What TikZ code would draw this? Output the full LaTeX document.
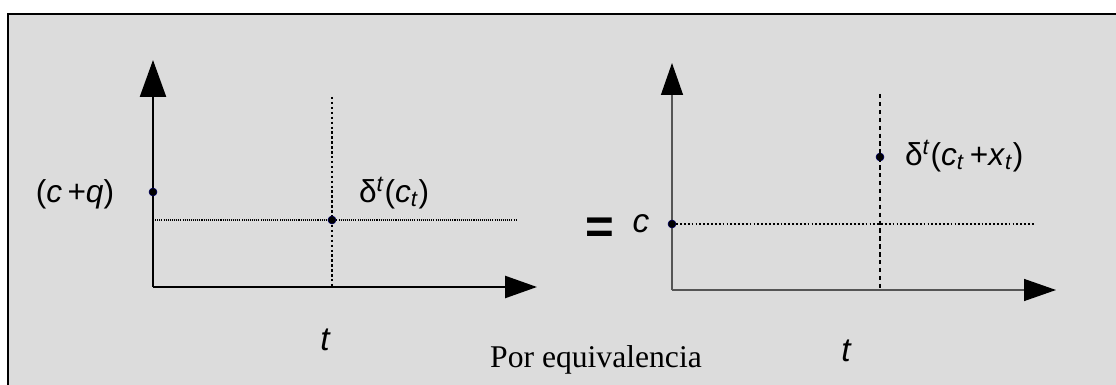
\documentclass[tikz,border=0pt]{standalone}
\usepackage{fontspec}
\setmainfont{Liberation Serif}
\newfontfamily\lblfont{Liberation Sans}
\usepackage{xcolor}
\usepackage{tikz}
\usetikzlibrary{positioning, arrows.meta, calc}
\definecolor{panelbg}{HTML}{DCDCDC}
\definecolor{axisgray}{HTML}{555555}
\tikzset{
  frame box/.style={draw=black, line width=1.2pt, fill=panelbg},
  main axis/.style={
    -{Triangle[length=0.74cm, width=0.52cm]},
    line width=1.4pt, color=black
  },
  main xaxis/.style={
    -{Triangle[length=0.64cm, width=0.44cm]},
    line width=1.4pt, color=black
  },
  side axis/.style={
    -{Triangle[length=0.64cm, width=0.44cm, color=black]},
    line width=0.8pt, color=axisgray
  },
  pt dot/.style={
    circle, fill=black, draw=blue!40!black, line width=0.3pt,
    inner sep=0pt, minimum size=0.16cm
  },
  guide bold/.style={line width=1.2pt, dash pattern=on 1.4pt off 1.4pt},
  guide fine/.style={line width=0.9pt, dash pattern=on 0.6pt off 0.6pt},
  guide thin/.style={line width=0.6pt, dash pattern=on 1pt off 1.2pt},
  guide dash/.style={line width=0.6pt, dash pattern=on 2.5pt off 2pt},
  lbl/.style={font=\lblfont\fontsize{18}{20}\selectfont, inner sep=1pt},
  var/.style={font=\lblfont\itshape\fontsize{19}{21}\selectfont, inner sep=0pt}
}

\begin{document}
\begin{tikzpicture}[x=0.02cm, y=-0.02cm]
  \clip (0,0) rectangle (1116,385);
  % Frame
  \draw[frame box] (8,14) rectangle (1140,410);

  % Left plot
  \coordinate (oA) at (153,287);
  \coordinate (yA) at (153,60);
  \coordinate (xA) at (537,287);
  \draw[main axis] (oA) -- (yA);
  \draw[main xaxis] (oA) -- (xA);
  \coordinate (vAtop) at (332,97);
  \coordinate (vAbot) at (332,287);
  \coordinate (hAbeg) at (153,220);
  \coordinate (hAend) at (516,220);
  \draw[guide bold] (vAtop) -- (vAbot);
  \draw[guide fine] (hAbeg) -- (hAend);
  \node[pt dot] (cq) at (153,192) {};
  \node[pt dot] (pA) at (332,220) {};
  \node[lbl] (cqlbl) at (75,194) {(\textit{c\,}+\textit{q})};
  \node[lbl, anchor=west] (dA) at (357,193) {δ\textsuperscript{\textit{t}}(\textit{c}\textsubscript{\textit{t}})};
  \node[var] (tA) at (325,340) {t};

  % Equivalence sign
  \node[font=\lblfont\bfseries\fontsize{28}{28}\selectfont] (eq) at (600,231) {=};

  % Right plot
  \coordinate (oB) at (672,290);
  \coordinate (yB) at (672,63);
  \coordinate (xB) at (1056,290);
  \draw[side axis] (oB) -- (yB);
  \draw[side axis] (oB) -- (xB);
  \coordinate (vBtop) at (880,94);
  \coordinate (vBbot) at (880,290);
  \coordinate (hBend) at (1035,224);
  \node[pt dot] (c0) at (672,224) {};
  \node[pt dot] (pB) at (880,157) {};
  \draw[guide dash] (vBtop) -- (vBbot);
  \draw[guide thin] (c0) -- (hBend);
  \node[var] (clbl) at (641,224) {c};
  \node[lbl, anchor=west] (dB) at (903,156) {δ\textsuperscript{\textit{t}}(\textit{c}\textsubscript{\textit{t}}\,+\textit{x}\textsubscript{\textit{t}})};
  \node[var] (tB) at (846,351) {t};

  % Caption
  \node[font=\fontsize{18}{20}\selectfont, inner sep=0pt] (cap) at (596,360) {Por equivalencia};
\end{tikzpicture}
\end{document}
